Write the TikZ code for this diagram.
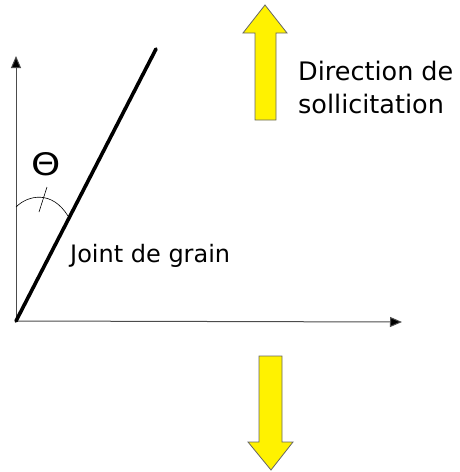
\documentclass[tikz,border=0pt]{standalone}
\usepackage{fontspec}
\setmainfont{DejaVu Sans}
\usetikzlibrary{arrows.meta}
\begin{document}
\begin{tikzpicture}[x=1pt,y=-1pt,
  axis/.style={draw=black!70,line width=1pt,-{Triangle[length=12pt,width=10pt,fill=black]}},
  grain/.style={line width=3.6pt,line cap=round},
  force/.style={fill=yellow,draw=black!60,line width=0.8pt,line join=miter},
  lbl/.style={inner sep=0pt,anchor=base west}]
\useasboundingbox (0,0) rectangle (459,472);
\coordinate (O) at (16,321);
\coordinate (Ytip) at (16,56);
\coordinate (Xtip) at (402,322);
\coordinate (G) at (156,49);
\draw[axis] (O) -- (Ytip);
\draw[axis] (O) -- (Xtip);
\draw[grain] (O) -- (G);
% angle arc
\coordinate (A1) at (16,207);
\coordinate (A2) at (68,216);
\draw[line width=0.6pt] (A1) .. controls (28,195) and (52,190) .. (A2);
\coordinate (T1) at (47,187);
\coordinate (T2) at (39,212);
\draw[line width=0.6pt] (T1) -- (T2);
\node[inner sep=0pt,font=\fontsize{31}{34}\selectfont] (theta) at (46,164) {\scalebox{1.2}[1]{Θ}};
\node[lbl,font=\fontsize{24}{28}\selectfont] (joint) at (70,262) {Joint de grain};
\node[lbl,font=\fontsize{25.5}{30}\selectfont] (dir1) at (298,80) {Direction de};
\node[lbl,font=\fontsize{25.5}{30}\selectfont] (dir2) at (298,113) {sollicitation};
% up arrow
\draw[force] (255,120) -- (255,33) -- (243,33) -- (265,5) -- (287,33) -- (276,33) -- (276,120) -- cycle;
% down arrow
\draw[force] (259,356) -- (282,356) -- (282,442) -- (293,442) -- (271,470) -- (248,442) -- (259,442) -- cycle;
\end{tikzpicture}
\end{document}
